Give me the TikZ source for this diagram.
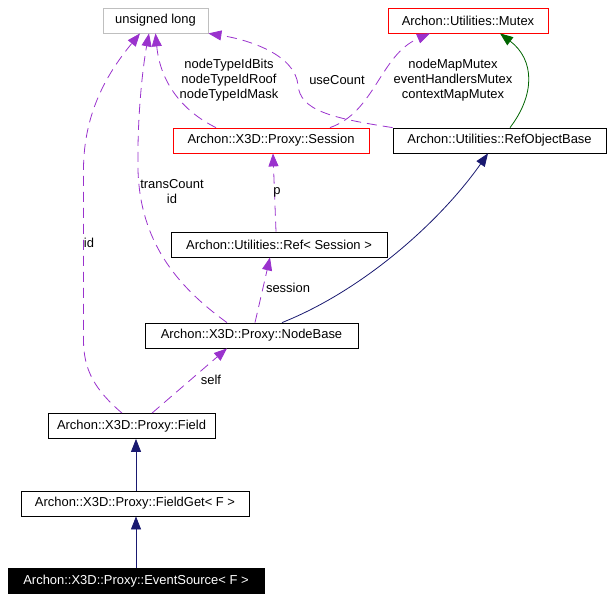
\documentclass[tikz,border=0pt]{standalone}
\usepackage{fontspec}
\setmainfont{Liberation Sans}
\usetikzlibrary{arrows.meta}
\definecolor{usecol}{HTML}{9A32CD}
\definecolor{inhcol}{HTML}{191970}
\definecolor{tmplcol}{HTML}{006400}
\definecolor{boxgray}{HTML}{BFBFBF}
\begin{document}
\begin{tikzpicture}[x=1bp, y=-1bp, line width=0.8bp, font=\fontsize{13}{15}\selectfont,
  >={Triangle[length=13bp,width=10bp]},
  main/.style = {draw, minimum height=25bp, inner sep=0pt},
  lbl/.style = {align=center, inner sep=0pt},
  use/.style = {->, usecol, dash pattern=on 10bp off 6bp},
  inh/.style = {->, inhcol}]
\useasboundingbox (0,0) rectangle (612,600);

\node[main, draw=boxgray, minimum width=105bp] (1) at (155.5,20.5) {unsigned long};
\node[main, draw=red, minimum width=160bp] (2) at (468,20.5) {Archon::Utilities::Mutex};
\node[main, draw=red, minimum width=196bp] (3) at (271,140.5) {Archon::X3D::Proxy::Session};
\node[main, minimum width=213bp] (4) at (499.5,140.5) {Archon::Utilities::RefObjectBase};
\node[main, minimum width=216bp] (5) at (279,244.5) {Archon::Utilities::Ref< Session >};
\node[main, minimum width=213bp] (6) at (251.5,335.5) {Archon::X3D::Proxy::NodeBase};
\node[main, minimum width=167bp] (7) at (131.5,426) {Archon::X3D::Proxy::Field};
\node[main, minimum width=228bp] (8) at (135,503.5) {Archon::X3D::Proxy::FieldGet< F >};
\node[main, fill=black, text=white, minimum width=256bp] (9) at (136,581) {Archon::X3D::Proxy::EventSource< F >};

\draw[use] ([xshift=-9.5bp]7.north) .. controls (95,390) and (83.5,370) .. (83.5,340)
  -- (83.5,170) .. controls (83.5,110) and (110,70) .. ([xshift=-15.5bp]1.south);
\node[lbl] (l1) at (89,243) {id};

\draw[use] ([xshift=-24.5bp]6.north) .. controls (175,285) and (140,240) .. (138,170)
  .. controls (137,110) and (144,60) .. ([xshift=-6.5bp]1.south);
\node[lbl] (l2) at (172,191.5) {transCount\\id};

\draw[use] ([xshift=-55bp]3.north) .. controls (180,110) and (160,80) .. (1.south);
\node[lbl] (l3) at (229,80) {nodeTypeIdBits\\nodeTypeIdRoof\\nodeTypeIdMask};

\draw[use] (4.north west) .. controls (330,118) and (300,110) .. (298,85)
  .. controls (295,55) and (250,40) .. (1.south east);
\node[lbl] (l4) at (337,80) {useCount};

\draw[use] ([xshift=59bp]3.north) .. controls (375,112) and (380,55) .. ([xshift=-38bp]2.south);
\node[lbl] (l5) at (453,80) {nodeMapMutex\\eventHandlersMutex\\contextMapMutex};

\draw[->, tmplcol] ([xshift=10.5bp]4.north) .. controls (535,95) and (535,60) .. ([xshift=32bp]2.south);

\draw[use] ([xshift=-3bp]5.north) -- ([xshift=2bp]3.south);
\node[lbl] (l6) at (277,192) {p};

\draw[use] ([xshift=3.5bp]6.north) -- ([xshift=-9bp]5.south);
\node[lbl] (l7) at (288,288) {session};

\draw[inh] ([xshift=30.5bp]6.north) .. controls (366,289) and (442,219) .. ([xshift=-11.5bp]4.south);

\draw[use] ([xshift=20.5bp]7.north) -- ([xshift=-24.5bp]6.south);
\node[lbl] (l8) at (211,380) {self};

\draw[inh] (8.north -| 9) -- (9 |- 7.south);
\draw[inh] (9) -- (9 |- 8.south);

\end{tikzpicture}
\end{document}
